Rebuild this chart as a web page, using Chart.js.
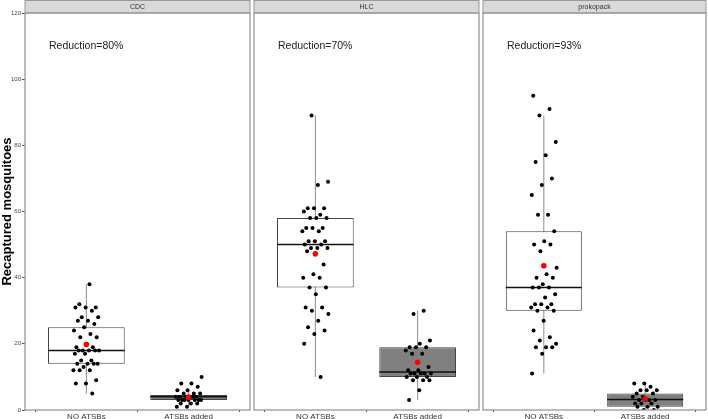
<!DOCTYPE html>
<html>
<head>
<meta charset="utf-8">
<script src="https://cdn.jsdelivr.net/npm/chart.js@4.4.1/dist/chart.umd.min.js"></script>
<style>
  html, body { margin: 0; padding: 0; background: #fff; }
  #wrap { position: relative; width: 708px; height: 419px; overflow: hidden; }
  .panel { position: absolute; top: 0; height: 419px; }
</style>
</head>
<body>
<div id="wrap">
  <div class="panel" style="left:0px;width:254px"><canvas id="c0"></canvas></div>
  <div class="panel" style="left:250px;width:233px"><canvas id="c1"></canvas></div>
  <div class="panel" style="left:479px;width:231px"><canvas id="c2"></canvas></div>
</div>
<script>
// ===== DADOS =====
const categories = ['NO ATSBs', 'ATSBs added'];
const panelNames = ['CDC', 'HLC', 'prokopack'];
const reductions = ['Reduction=80%', 'Reduction=70%', 'Reduction=93%'];
const yTicks = [0, 20, 40, 60, 80, 100, 120];

// individual counts
const cdcNo = [38, 32, 31, 31, 31, 30, 28, 28, 27, 27, 26, 25, 24, 23, 22, 22, 20, 19, 19, 18,
  18, 18, 18, 18, 17, 17, 15, 15, 14, 14, 14, 14, 13, 12, 12, 12, 9, 8, 8, 5];
const cdcAdded = [10, 8, 8, 7, 6, 6, 5, 5, 5, 4, 4, 4, 4, 4, 4, 3, 3, 3, 3, 3, 3, 3, 2, 2, 2, 1, 1];
const hlcNo = [89, 69, 68, 61, 61, 61, 60, 59, 58, 58, 58, 55, 55, 55, 54, 54, 51, 51, 51, 50,
  50, 49, 49, 49, 48, 44, 41, 40, 40, 37, 37, 35, 31, 31, 30, 29, 27, 25, 24, 23, 20, 10];
const hlcAdded = [30, 29, 21, 20, 19, 19, 19, 18, 17, 17, 13, 12, 12, 11, 11, 11, 11, 11, 10, 10,
  10, 9, 9, 9, 6, 3];
const prokoNo = [95, 91, 89, 81, 77, 75, 70, 68, 65, 59, 59, 54, 51, 50, 50, 48, 43, 41, 40, 40,
  38, 37, 37, 37, 35, 34, 32, 32, 32, 31, 31, 30, 30, 27, 24, 22, 21, 20, 19, 19, 19, 17, 11];
const prokoAdded = [8, 8, 7, 6, 6, 6, 5, 5, 4, 4, 3, 3, 3, 3, 2, 2, 2, 1, 1, 1, 0, 0];

// box statistics per panel: [NO ATSBs, ATSBs added]
const whiskerLow = [[5, 1], [10, 3], [11, 0]];
const q1 = [[14, 3], [37, 10], [30, 1]];
const medians = [[18, 4], [50, 11.5], [37, 3.2]];
const q3 = [[25, 4.5], [58, 19], [54, 5]];
const whiskerHigh = [[38, 6], [89, 30], [89, 8]];
const means = [[19.8, 3.9], [47.2, 14.4], [43.6, 3.4]];

const groups = [[cdcNo, cdcAdded], [hlcNo, hlcAdded], [prokoNo, prokoAdded]];

// ===== ESTILO =====
const FONT = "'Liberation Sans', Arial, sans-serif";
const HALF_BOX = 0.375;
const JITTER = 0.13;
const boxFills = ['#ffffff', '#808080'];

Chart.defaults.font.family = FONT;
Chart.defaults.color = '#333';

function jitter(i, g) {
  const f = ((i + 1) * 0.6180339887 + g * 0.37) % 1;
  return (f - 0.5) * 2 * JITTER;
}

// strip header, panel border and the reduction label
const facetDeco = {
  id: 'facetDeco',
  beforeDraw(chart, args, opts) {
    const { ctx, chartArea: a } = chart;
    ctx.save();
    ctx.fillStyle = '#d9d9d9';
    ctx.strokeStyle = '#999';
    ctx.lineWidth = 1;
    ctx.fillRect(a.left, 0.5, a.right - a.left, a.top - 0.5);
    ctx.strokeRect(a.left, 0.5, a.right - a.left, a.top - 0.5);
    ctx.fillStyle = '#333';
    ctx.font = '7px ' + FONT;
    ctx.textAlign = 'center';
    ctx.textBaseline = 'middle';
    ctx.fillText(opts.strip, (a.left + a.right) / 2, a.top / 2 + 0.5);
    ctx.restore();
  },
  afterDatasetsDraw(chart, args, opts) {
    const { ctx, chartArea: a } = chart;
    ctx.save();
    ctx.strokeStyle = '#999';
    ctx.lineWidth = 1.3;
    ctx.strokeRect(a.left, a.top, a.right - a.left, a.bottom - a.top);
    ctx.fillStyle = '#222';
    ctx.font = '10.5px ' + FONT;
    ctx.textAlign = 'left';
    ctx.textBaseline = 'middle';
    ctx.fillText(opts.label, a.left + 24, 46);
    ctx.restore();
  }
};

function buildPanel(p) {
  const first = p === 0;
  const boxes = [0, 1].map(g => ({ x: g + 1, y: [q1[p][g], q3[p][g]] }));

  const whiskers = [];
  const medianLine = [];
  [0, 1].forEach(g => {
    whiskers.push({ x: g + 1, y: whiskerLow[p][g] }, { x: g + 1, y: whiskerHigh[p][g] }, { x: g + 1.5, y: null });
    medianLine.push({ x: g + 1 - HALF_BOX, y: medians[p][g] }, { x: g + 1 + HALF_BOX, y: medians[p][g] }, { x: g + 1.5, y: null });
  });

  const points = [];
  groups[p].forEach((vals, g) => {
    vals.forEach((v, i) => points.push({ x: g + 1 + jitter(i, g + p * 2), y: v }));
  });

  const meanPts = [0, 1].map(g => ({ x: g + 1, y: means[p][g] }));

  new Chart(document.getElementById('c' + p), {
    type: 'scatter',
    data: {
      datasets: [
        {
          type: 'line', data: whiskers, borderColor: '#8c8c8c', borderWidth: 1,
          pointRadius: 0, spanGaps: false, order: 5
        },
        {
          type: 'bar', data: boxes, backgroundColor: boxFills, borderColor: '#444',
          borderWidth: 1, borderSkipped: false, categoryPercentage: 1, barPercentage: 0.75, order: 4
        },
        {
          type: 'line', data: medianLine, borderColor: '#111', borderWidth: 1.5,
          pointRadius: 0, spanGaps: false, order: 3
        },
        {
          type: 'scatter', data: points, backgroundColor: '#000', borderWidth: 0,
          pointRadius: 2, order: 2
        },
        {
          type: 'scatter', data: meanPts, backgroundColor: '#ff0000', borderWidth: 0,
          pointRadius: 2.8, order: 1
        }
      ]
    },
    options: {
      responsive: true,
      maintainAspectRatio: false,
      animation: false,
      events: [],
      layout: { padding: first ? { top: 13, right: 1, left: 0, bottom: 0 } : { top: 13, right: 1, left: 1, bottom: 0 } },
      plugins: {
        legend: { display: false },
        tooltip: { enabled: false },
        facetDeco: { strip: panelNames[p], label: reductions[p] }
      },
      scales: {
        x: {
          type: 'linear', min: 0.4, max: 2.6, offset: false,
          afterBuildTicks(s) { s.ticks = [{ value: 1 }, { value: 2 }]; },
          afterFit(s) { s.height = 9; },
          ticks: {
            callback: (v, i) => categories[i], font: { size: 8 }, color: '#333',
            padding: 0, maxRotation: 0, autoSkip: false
          },
          grid: { drawOnChartArea: false, tickLength: 2, color: '#555' },
          border: { display: false }
        },
        y: {
          display: first,
          min: 0, max: 120,
          afterBuildTicks(s) { s.ticks = yTicks.map(v => ({ value: v })); },
          afterFit(s) { if (first) s.width = 25; },
          ticks: { font: { size: 6 }, color: '#444', padding: 1 },
          grid: { drawOnChartArea: false, tickLength: 3, color: '#555' },
          border: { display: false },
          title: {
            display: true, text: 'Recaptured mosquitoes', color: '#000',
            font: { size: 13, weight: 'bold' }, padding: 0
          }
        }
      }
    },
    plugins: [facetDeco]
  });
}

panelNames.forEach((_, p) => buildPanel(p));
</script>
</body>
</html>
